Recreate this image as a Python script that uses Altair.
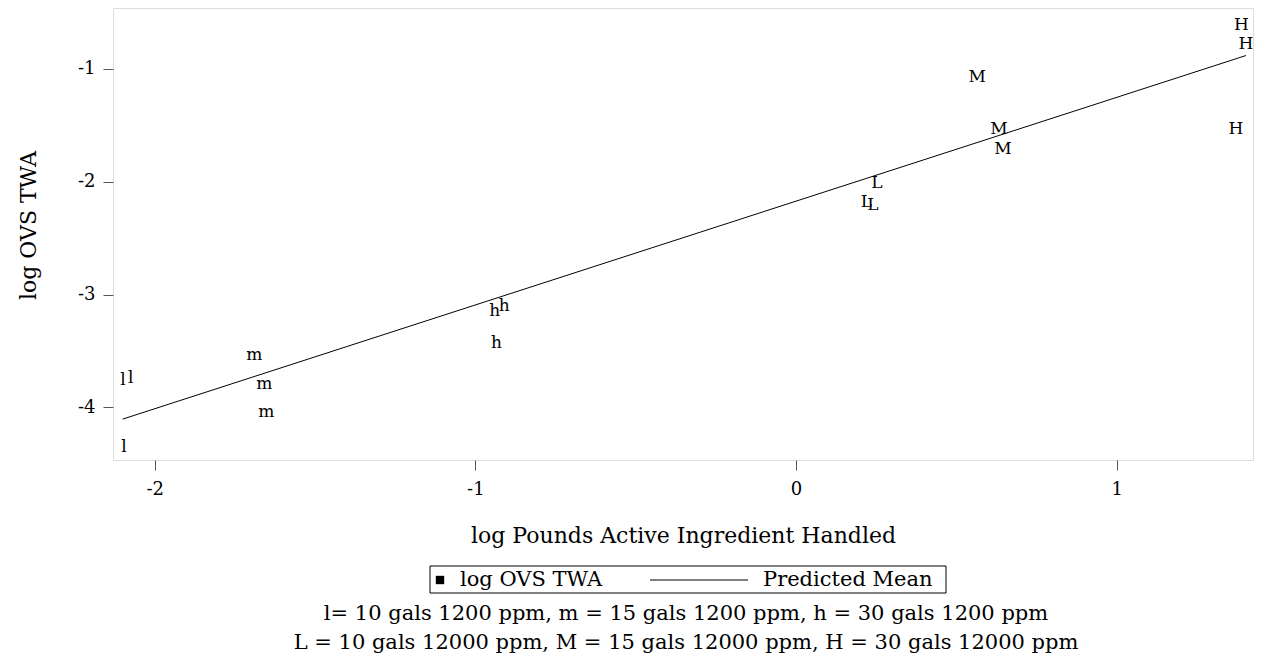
import altair as alt
import pandas as pd

# ---- data ----
point_labels = ["l", "l", "l", "m", "m", "m", "h", "h", "h",
                "L", "L", "L", "M", "M", "M", "H", "H", "H"]
point_x = [-2.096, -2.099, -2.075, -1.689, -1.658, -1.652, -0.940, -0.910, -0.934,
           0.252, 0.219, 0.240, 0.565, 0.633, 0.645, 1.389, 1.403, 1.372]
point_y = [-4.335, -3.735, -3.718, -3.515, -3.771, -4.018, -3.132, -3.082, -3.411,
           -1.994, -2.164, -2.185, -1.059, -1.515, -1.691, -0.594, -0.766, -1.520]

line_x = [-2.100, 1.403]
line_y = [-4.103, -0.883]

x_ticks = [-2, -1, 0, 1]
y_ticks = [-4, -3, -2, -1]
x_domain = [-2.13, 1.425]
y_domain = [-4.465, -0.462]

x_title = "log Pounds Active Ingredient Handled"
y_title = "log OVS TWA"
legend_labels = ["log OVS TWA", "Predicted Mean"]
caption_lines = [
    "l= 10 gals 1200 ppm, m = 15 gals 1200 ppm, h = 30 gals 1200 ppm",
    "L = 10 gals 12000 ppm, M = 15 gals 12000 ppm, H = 30 gals 12000 ppm",
]

FONT = "DejaVu Serif"
W, H = 1140, 452

pts = pd.DataFrame({"x": point_x, "y": point_y, "lab": point_labels})
ln = pd.DataFrame({"x": line_x, "y": line_y})

xs = alt.Scale(domain=x_domain, nice=False, zero=False)
ys = alt.Scale(domain=y_domain, nice=False, zero=False)

x_axis = alt.Axis(values=x_ticks, labelExpr="'' + datum.value", title=x_title,
                  grid=False, domain=False, tickSize=10, tickColor="#555",
                  labelFont=FONT, labelFontSize=18, labelColor="black", labelPadding=10,
                  titleFont=FONT, titleFontSize=22, titleFontWeight="normal",
                  titleColor="black", titleBaseline="middle", titleY=75)
y_axis = alt.Axis(values=y_ticks, labelExpr="'' + datum.value", title=y_title,
                  grid=False, domain=False, tickSize=10, tickColor="#555",
                  labelFont=FONT, labelFontSize=18, labelColor="black", labelPadding=8,
                  titleFont=FONT, titleFontSize=22, titleFontWeight="normal",
                  titleColor="black", titleAngle=270, titleBaseline="middle",
                  titleAlign="center", titleX=-85, titleY=217)

points = alt.Chart(pts).mark_text(font=FONT, fontSize=17, color="black", dy=2).encode(
    x=alt.X("x:Q", scale=xs, axis=x_axis),
    y=alt.Y("y:Q", scale=ys, axis=y_axis),
    text="lab:N",
)

line = alt.Chart(ln).mark_line(color="black", strokeWidth=1).encode(
    x=alt.X("x:Q", scale=xs),
    y=alt.Y("y:Q", scale=ys),
)

one = pd.DataFrame({"k": [0]})
leg_box = alt.Chart(one).mark_rect(fill="white", stroke="black", strokeWidth=1).encode(
    x=alt.value(317), x2=alt.value(833), y=alt.value(558), y2=alt.value(585))
leg_sq = alt.Chart(one).mark_square(size=70, color="black", opacity=1).encode(
    x=alt.value(327), y=alt.value(572))
leg_t1 = alt.Chart(pd.DataFrame({"t": [legend_labels[0]]})).mark_text(
    font=FONT, fontSize=21, align="left", baseline="middle", color="black").encode(
    x=alt.value(347), y=alt.value(572), text="t:N")
leg_rule = alt.Chart(one).mark_rule(color="black", strokeWidth=1).encode(
    x=alt.value(537), x2=alt.value(635), y=alt.value(572))
leg_t2 = alt.Chart(pd.DataFrame({"t": [legend_labels[1]]})).mark_text(
    font=FONT, fontSize=21, align="left", baseline="middle", color="black").encode(
    x=alt.value(650), y=alt.value(572), text="t:N")
cap1 = alt.Chart(pd.DataFrame({"t": [caption_lines[0]]})).mark_text(
    font=FONT, fontSize=21, align="center", baseline="alphabetic", color="black").encode(
    x=alt.value(573), y=alt.value(612), text="t:N")
cap2 = alt.Chart(pd.DataFrame({"t": [caption_lines[1]]})).mark_text(
    font=FONT, fontSize=21, align="center", baseline="alphabetic", color="black").encode(
    x=alt.value(573), y=alt.value(641), text="t:N")

chart = alt.layer(line, points, leg_box, leg_sq, leg_t1, leg_rule, leg_t2, cap1, cap2).properties(
    width=W, height=H,
    autosize=alt.AutoSizeParams(type="none"),
    padding={"left": 105, "top": 0, "right": 2, "bottom": 195},
).configure_view(stroke="black", strokeWidth=1).configure(background="white")

chart.save("out.html", embed_options={"renderer": "svg", "actions": False})
